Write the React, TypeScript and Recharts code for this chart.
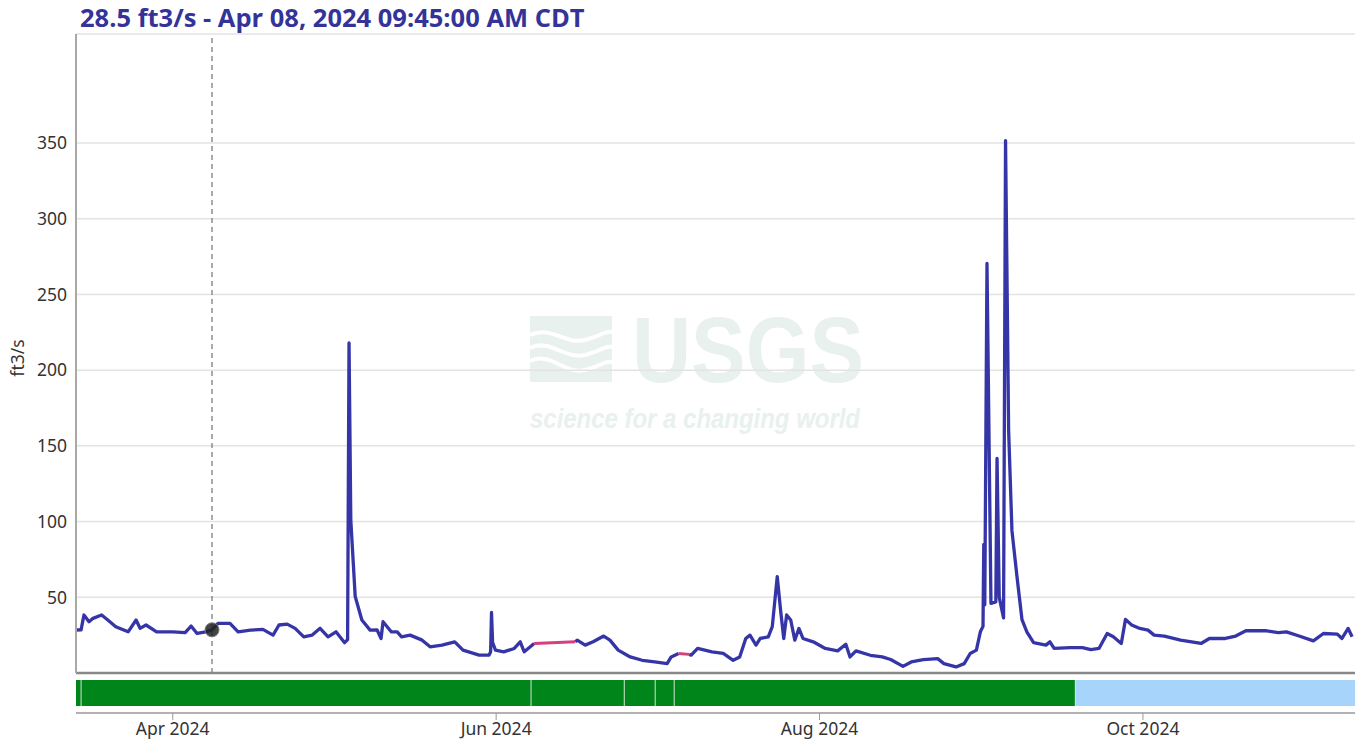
import { LineChart, Line, Area, XAxis, YAxis, CartesianGrid, ReferenceLine, ReferenceDot, ComposedChart } from 'recharts'

const START = '2024-03-13T18:00'
const END = '2024-11-10T00:00'
const MONTH_TICKS = ['2024-04-01T00:00', '2024-06-01T00:00', '2024-08-01T00:00', '2024-10-01T00:00']
const Y_TICKS = [50, 100, 150, 200, 250, 300, 350]
const CURRENT = { time: '2024-04-08T09:45', value: 28.5 }
const TITLE = '28.5 ft3/s - Apr 08, 2024 09:45:00 AM CDT'

// discharge, ft3/s (null = break where the estimated values take over)
const discharge: [string, number | null][] = [
  ['2024-03-13T18:00', 28.4], ['2024-03-14T17:00', 28.5], ['2024-03-15T06:00', 38.3], ['2024-03-16T05:00', 33.9],
  ['2024-03-16T23:00', 36.1], ['2024-03-18T14:00', 38.3], ['2024-03-19T18:00', 35], ['2024-03-21T06:00', 30.6],
  ['2024-03-23T14:00', 27.2], ['2024-03-25T02:00', 35], ['2024-03-25T20:00', 29.5], ['2024-03-26T23:00', 31.7],
  ['2024-03-28T23:00', 27.2], ['2024-04-01T01:00', 27.2], ['2024-04-03T08:00', 26.6], ['2024-04-04T11:00', 31],
  ['2024-04-05T14:00', 26.1], ['2024-04-07T05:00', 27.2], ['2024-04-08T09:45', 28.5], ['2024-04-09T13:00', 32.8],
  ['2024-04-11T19:00', 32.8], ['2024-04-13T08:00', 27.2], ['2024-04-15T16:00', 28.3], ['2024-04-18T00:00', 28.8],
  ['2024-04-19T22:00', 25], ['2024-04-21T01:00', 31.7], ['2024-04-22T14:00', 32.3], ['2024-04-24T02:00', 29.5],
  ['2024-04-25T17:00', 23.9], ['2024-04-27T06:00', 25], ['2024-04-28T19:00', 29.5], ['2024-04-30T07:00', 23.9],
  ['2024-05-01T19:00', 27.2], ['2024-05-03T10:00', 20], ['2024-05-03T23:30', 22], ['2024-05-04T06:00', 218],
  ['2024-05-04T14:00', 101], ['2024-05-05T10:00', 50.5], ['2024-05-06T16:00', 35], ['2024-05-08T05:30', 28.3],
  ['2024-05-09T13:00', 28.4], ['2024-05-10T07:00', 22.8], ['2024-05-10T16:00', 33.9], ['2024-05-12T05:00', 27.2],
  ['2024-05-13T08:00', 27.2], ['2024-05-14T04:00', 23.9], ['2024-05-15T18:30', 25], ['2024-05-18T01:00', 21.7],
  ['2024-05-19T13:00', 17.3], ['2024-05-21T19:00', 18.4], ['2024-05-24T04:30', 20.6], ['2024-05-25T18:00', 15.1],
  ['2024-05-28T19:00', 11.8], ['2024-05-30T16:00', 11.8], ['2024-05-30T23:00', 14], ['2024-05-31T03:00', 40],
  ['2024-05-31T08:00', 20], ['2024-05-31T21:00', 15.1], ['2024-06-02T10:00', 14], ['2024-06-04T10:00', 16.2],
  ['2024-06-05T13:00', 20.6], ['2024-06-06T07:00', 14], ['2024-06-07T01:00', 16.2], ['2024-06-08T04:00', 19.5],
  ['2024-06-12T00:00', null],
  ['2024-06-15T22:00', 20.6], ['2024-06-16T07:00', 21.7], ['2024-06-17T19:00', 18.4], ['2024-06-19T07:00', 20.6],
  ['2024-06-21T07:00', 24.4], ['2024-06-22T11:00', 21.7], ['2024-06-24T00:30', 15.1], ['2024-06-26T07:00', 10.6],
  ['2024-06-28T13:00', 8.4], ['2024-06-30T22:00', 7.3], ['2024-07-03T06:00', 6.2], ['2024-07-04T00:30', 10.6],
  ['2024-07-05T10:00', 12.9],
  ['2024-07-06T10:00', null],
  ['2024-07-07T10:00', 12.3], ['2024-07-07T19:00', 11.8], ['2024-07-09T00:00', 16.2], ['2024-07-11T17:00', 14],
  ['2024-07-13T20:00', 12.9], ['2024-07-15T17:00', 8.4], ['2024-07-16T22:30', 10.6], ['2024-07-18T02:00', 22.8],
  ['2024-07-18T21:00', 25], ['2024-07-20T00:30', 18.4], ['2024-07-20T19:30', 22.8], ['2024-07-22T08:00', 23.9],
  ['2024-07-23T02:00', 30.6], ['2024-07-24T00:30', 63.7], ['2024-07-24T15:30', 41.6], ['2024-07-25T06:00', 22.8],
  ['2024-07-25T19:00', 38.3], ['2024-07-26T13:30', 35], ['2024-07-27T08:00', 21.7], ['2024-07-28T02:30', 29.4],
  ['2024-07-28T21:00', 22.8], ['2024-07-30T19:30', 20.6], ['2024-08-02T02:00', 16.2], ['2024-08-04T10:00', 14.6],
  ['2024-08-05T23:00', 19], ['2024-08-06T18:00', 10.6], ['2024-08-07T21:00', 14.6], ['2024-08-10T14:00', 11.7],
  ['2024-08-12T20:00', 10.6], ['2024-08-14T10:00', 8.9], ['2024-08-16T18:00', 4.4], ['2024-08-18T07:00', 7.3],
  ['2024-08-20T14:00', 8.9], ['2024-08-23T07:00', 9.5], ['2024-08-24T11:00', 6.2], ['2024-08-26T18:00', 4],
  ['2024-08-28T07:00', 6.2], ['2024-08-29T10:00', 12.9], ['2024-08-30T14:00', 15.1], ['2024-08-31T08:00', 27.2],
  ['2024-08-31T20:00', 30.8], ['2024-08-31T23:30', 85], ['2024-09-01T04:00', 45], ['2024-09-01T14:00', 270.5],
  ['2024-09-02T08:00', 46], ['2024-09-03T06:00', 47], ['2024-09-03T11:30', 141.7], ['2024-09-03T21:30', 50],
  ['2024-09-04T17:00', 36.4], ['2024-09-05T02:00', 351.6], ['2024-09-05T16:00', 160], ['2024-09-06T07:00', 94],
  ['2024-09-07T06:00', 63.4], ['2024-09-08T04:30', 35.2], ['2024-09-09T03:00', 27], ['2024-09-10T09:00', 20],
  ['2024-09-12T17:00', 18.4], ['2024-09-13T11:00', 20.6], ['2024-09-14T06:00', 16.2], ['2024-09-17T07:00', 16.8],
  ['2024-09-19T14:00', 16.8], ['2024-09-21T04:00', 15.5], ['2024-09-22T17:00', 16.2], ['2024-09-24T06:00', 26.1],
  ['2024-09-25T10:00', 23.9], ['2024-09-26T22:00', 19.5], ['2024-09-27T17:00', 35.4], ['2024-09-28T21:00', 31.7],
  ['2024-09-30T10:00', 29.4], ['2024-10-01T23:00', 28.3], ['2024-10-03T02:30', 25], ['2024-10-05T01:00', 24.4],
  ['2024-10-08T02:30', 21.7], ['2024-10-11T23:00', 19.5], ['2024-10-13T12:45', 22.8], ['2024-10-16T13:00', 22.8],
  ['2024-10-18T12:00', 24.4], ['2024-10-20T10:00', 27.9], ['2024-10-24T07:00', 27.9], ['2024-10-26T13:00', 26.6],
  ['2024-10-28T01:30', 27.2], ['2024-10-30T11:00', 24.4], ['2024-11-02T03:30', 21.2], ['2024-11-04T01:00', 26.1],
  ['2024-11-06T16:00', 25.7], ['2024-11-07T13:00', 22.8], ['2024-11-08T17:00', 29.4], ['2024-11-09T11:00', 23.9],
]

// estimated values (pink)
const estimated: [string, number | null][] = [
  ['2024-06-08T04:00', 19.5], ['2024-06-15T22:00', 20.6],
  ['2024-06-25T00:00', null],
  ['2024-07-05T10:00', 12.9], ['2024-07-07T10:00', 12.3],
]

// approval status strip: A = approved, P = provisional
const approval: { from: string; to: string; status: 'A' | 'P' }[] = [
  { from: '2024-03-13T18:00', to: '2024-03-14T17:00', status: 'A' },
  { from: '2024-03-14T17:00', to: '2024-06-07T14:00', status: 'A' },
  { from: '2024-06-07T14:00', to: '2024-06-25T04:00', status: 'A' },
  { from: '2024-06-25T04:00', to: '2024-07-01T00:00', status: 'A' },
  { from: '2024-07-01T00:00', to: '2024-07-04T14:00', status: 'A' },
  { from: '2024-07-04T14:00', to: '2024-09-18T06:00', status: 'A' },
  { from: '2024-09-18T06:00', to: '2024-11-10T00:00', status: 'P' },
]

const MONTHS = ['Jan', 'Feb', 'Mar', 'Apr', 'May', 'Jun', 'Jul', 'Aug', 'Sep', 'Oct', 'Nov', 'Dec']
const ts = (s: string) => Date.parse(s + ':00Z')
const fmtMonth = (t: number) => {
  const d = new Date(t)
  return `${MONTHS[d.getUTCMonth()]} ${d.getUTCFullYear()}`
}

const domain = [ts(START), ts(END)]
const blueRows = discharge.map(([d, v]) => ({ t: ts(d), q: v }))
const pinkRows = estimated.map(([d, v]) => ({ t: ts(d), q: v }))

// strip occupies the upper part of the lower chart's plot area, axis line sits below it
const BAND: [number, number] = [0.21, 1]
const stripRows: any[] = []
approval.forEach(s => {
  stripRows.push({ t: ts(s.from), [s.status]: BAND })
  stripRows.push({ t: ts(s.to), [s.status]: BAND })
})

const FONT = '"Noto Sans", sans-serif'
const WM = '#e8f1ee'

export default function App() {
  return (
    <div style={{ position: 'absolute', left: 0, top: 0, width: 1360, height: 744, background: '#fff' }}>
      <svg width={1360} height={744} style={{ position: 'absolute', left: 0, top: 0 }}>
        <g fill={WM}>
          <rect x={530} y={316} width={82} height={66} />
          <text x={632} y={382} fontFamily='"Liberation Sans", sans-serif' fontWeight={700} fontSize={92}
            textLength={232} lengthAdjust="spacingAndGlyphs">USGS</text>
          <text x={530} y={428} fontFamily='"Liberation Sans", sans-serif' fontStyle="italic" fontWeight={700}
            fontSize={28} textLength={330} lengthAdjust="spacingAndGlyphs">science for a changing world</text>
        </g>
        <g fill="none" stroke="#fff" strokeWidth={4}>
          <path d="M530 335 C 550 325, 565 345, 585 340 S 605 330, 612 332" />
          <path d="M530 348 C 550 338, 565 360, 585 355 S 605 345, 612 347" />
          <path d="M530 361 C 550 351, 565 375, 585 370 S 605 360, 612 362" />
        </g>
        <text x={80} y={27} fontFamily='"Open Sans", sans-serif' fontWeight={700} fontSize={25.5} fill="#333399">{TITLE}</text>
        <text x={0} y={0} transform="translate(24 358) rotate(-90)" textAnchor="middle"
          fontFamily={FONT} fontSize={17.5} fill="#333">ft3/s</text>
      </svg>

      <div style={{ position: 'absolute', left: 0, top: 0 }}>
        <LineChart width={1360} height={676} margin={{ top: 34, right: 5, left: 0, bottom: 0 }}>
          <CartesianGrid vertical={false} stroke="#e3e3e3" strokeWidth={1.5} />
          <XAxis dataKey="t" type="number" scale="time" domain={domain} allowDataOverflow
            tick={false} tickLine={false} height={3} axisLine={{ stroke: '#888', strokeWidth: 2.5 }} />
          <YAxis type="number" domain={[0, 422]} ticks={Y_TICKS} width={76} tickSize={0} tickMargin={9}
            axisLine={{ stroke: '#a8a8a8', strokeWidth: 2 }} tickLine={false}
            tick={{ fill: '#333', fontSize: 17.5, fontFamily: FONT }} />
          <ReferenceLine x={ts(CURRENT.time)} stroke="#555" strokeDasharray="5 4" strokeWidth={1} />
          <Line data={blueRows} dataKey="q" type="linear" stroke="#3535a8" strokeWidth={3.3} dot={false}
            strokeLinejoin="round" isAnimationActive={false} />
          <Line data={pinkRows} dataKey="q" type="linear" stroke="#d63f80" strokeWidth={3} dot={false}
            isAnimationActive={false} />
          <ReferenceDot x={ts(CURRENT.time)} y={CURRENT.value} r={7} fill="#222" fillOpacity={0.85}
            stroke="#777" strokeWidth={1} />
        </LineChart>
      </div>

      <div style={{ position: 'absolute', left: 0, top: 676 }}>
        <ComposedChart width={1360} height={68} data={stripRows} margin={{ top: 4, right: 5, left: 76, bottom: 0 }}>
          <XAxis dataKey="t" type="number" scale="time" domain={domain} allowDataOverflow
            ticks={MONTH_TICKS.map(ts)} tickFormatter={fmtMonth} height={31} tickSize={7} tickMargin={3}
            axisLine={{ stroke: '#999', strokeWidth: 1.5 }} tickLine={{ stroke: '#999' }}
            tick={{ fill: '#333', fontSize: 17.5, fontFamily: FONT }} />
          <YAxis type="number" domain={[0, 1]} allowDataOverflow hide />
          <Area dataKey="A" type="linear" stroke="none" fill="#00851a" fillOpacity={1} isAnimationActive={false} />
          <Area dataKey="P" type="linear" stroke="none" fill="#a6d4fb" fillOpacity={1} isAnimationActive={false} />
          {approval.slice(1).map(s => (
            <ReferenceLine key={s.from} segment={[{ x: ts(s.from), y: BAND[0] }, { x: ts(s.from), y: BAND[1] }]}
              stroke="#d4e4d4" strokeWidth={1} />
          ))}
        </ComposedChart>
      </div>
    </div>
  )
}
